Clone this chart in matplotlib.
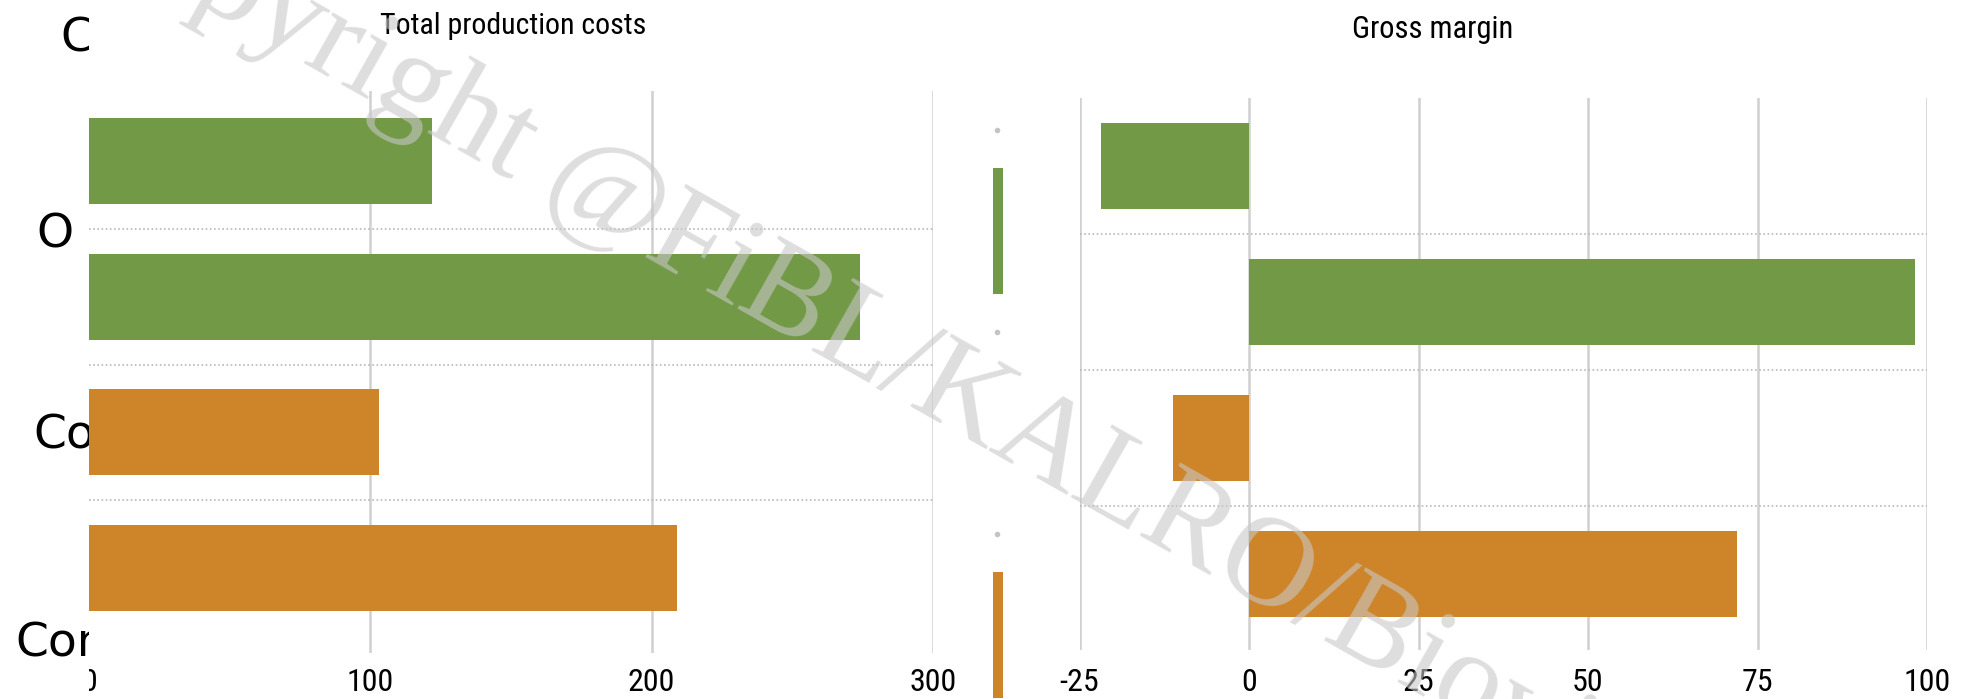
import matplotlib
matplotlib.use("Agg")
import matplotlib.pyplot as plt
from matplotlib import font_manager
from matplotlib.font_manager import FontProperties
from matplotlib.transforms import Bbox, TransformedBbox

# data
rows = ["Organic 1", "Organic 2", "Conventional 1", "Conventional 2"]
costs = [122, 274, 103, 209]
margin = [-21.8, 98.3, -11.2, 72.0]
bar_colors = ["#729946", "#729946", "#ce852a", "#ce852a"]
mid_values = [1.0, 0.0, 1.0]
mid_colors = ["#729946", "#729946", "#ce852a"]
side_labels = ["Conventional", "O", "Conventional", "Conventional"]

cost_ticks = [0, 100, 200, 300]
margin_ticks = [-25, 0, 25, 50, 75, 100]

# look for a narrow sans face, the chart uses a condensed font
narrow_file = None
for f in font_manager.fontManager.ttflist:
    if f.style != "normal" or f.weight not in (400, "normal", "regular"):
        continue
    if "Narrow" in f.name or "Condensed" in f.name or f.stretch in ("condensed", "semi-condensed"):
        if "Serif" in f.name or "Mono" in f.name:
            continue
        narrow_file = f.fname
        if "Liberation Sans Narrow" in f.name:
            break


def nfont(size):
    if narrow_file:
        return FontProperties(fname=narrow_file, size=size)
    return FontProperties(family="DejaVu Sans", size=size)


W, H = 1969, 699
GRID = "#d0d0d0"
SEP = "#b8b8b8"


def box(x0, y0, x1, y1):
    return [x0 / W, 1 - y1 / H, (x1 - x0) / W, (y1 - y0) / H]


def clean(ax):
    for s in ax.spines.values():
        s.set_visible(False)
    ax.tick_params(length=0)
    ax.set_yticks([])


fig = plt.figure(figsize=(W / 100, H / 100), dpi=100)

# left panel: total production costs
ax1 = fig.add_axes(box(89, 91, 933, 653))
clean(ax1)
ypos = range(len(rows))
for g in cost_ticks[1:]:
    ax1.axvline(g, color=GRID, lw=1.8, zorder=0)
for k in range(len(rows) - 1):
    ax1.axhline(k + 0.5, color=SEP, lw=1.2, ls=(0, (1, 1.5)), zorder=0)
ax1.barh(ypos, costs, height=0.634, color=bar_colors, zorder=2)
ax1.set_xlim(0, 300)
ax1.set_ylim(3.626, -0.516)
ax1.set_xticks(cost_ticks)
ax1.set_xticklabels([str(t) for t in cost_ticks], fontproperties=nfont(23))
ax1.tick_params(axis="x", pad=11)
clip = TransformedBbox(Bbox([[0, -0.3], [1.1, 1]]), ax1.transAxes)
for lab in ax1.get_xticklabels():
    lab.set_clip_box(clip)
    lab.set_clip_on(True)

# narrow middle panel
axm = fig.add_axes(box(993, 92, 1003, 699))
clean(axm)
axm.set_xticks([])
axm.barh(range(len(mid_values)), mid_values, height=0.62, color=mid_colors)
axm.plot([0.4] * 3, [-0.5, 0.5, 1.5], "o", ms=3, color="#c4c4c4", clip_on=False)
axm.set_xlim(0, 1)
axm.set_ylim(2.317, -0.688)

# right panel: gross margin
ax2 = fig.add_axes(box(1079.5, 98, 1927, 650))
clean(ax2)
for g in margin_ticks:
    ax2.axvline(g, color=GRID, lw=1.8, zorder=0)
for k in range(len(rows) - 1):
    ax2.axhline(k + 0.5, color=SEP, lw=1.2, ls=(0, (1, 1.5)), zorder=0)
ax2.barh(ypos, margin, height=0.63, color=bar_colors, zorder=2)
ax2.set_xlim(-25, 100)
ax2.set_ylim(3.56, -0.5)
ax2.set_xticks(margin_ticks)
ax2.set_xticklabels([str(t) for t in margin_ticks], fontproperties=nfont(23))
ax2.tick_params(axis="x", pad=13)

fig.text(513 / W, 1 - 26 / H, "Total production costs", fontproperties=nfont(21.5),
         ha="center", va="center")
fig.text(1433 / W, 1 - 29 / H, "Gross margin", fontproperties=nfont(22),
         ha="center", va="center")

# row labels of the cropped figure, cut at the left axis edge
axl = fig.add_axes(box(0, 0, 89, 699))
axl.axis("off")
axl.set_xlim(0, 89)
axl.set_ylim(699, 0)
for x0, y0, txt in zip([60, 36, 33, 15], [38, 235, 435, 643], side_labels):
    axl.text(x0, y0, txt, fontsize=34, ha="left", va="center", clip_on=True)

# watermark
fig.text(0.0305, 1.106, "Copyright @FiBL/KALRO/Biovision", fontsize=92,
         family="Liberation Serif", color="#c8c8c8", alpha=0.6,
         rotation=-29.5, rotation_mode="anchor", ha="left", va="baseline",
         zorder=10)

fig.savefig("out.png", dpi=100)
